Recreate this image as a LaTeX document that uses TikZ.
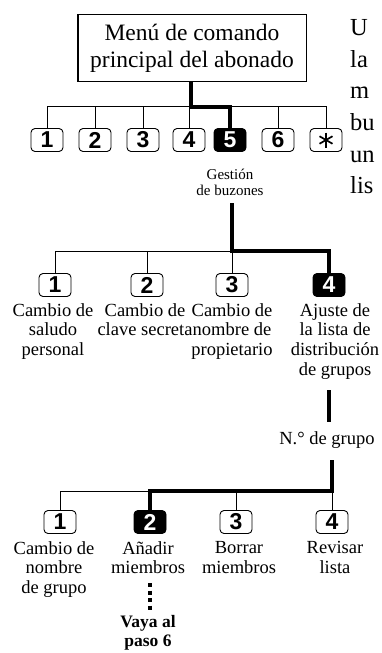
\documentclass[tikz,border=0pt]{standalone}
\usepackage{fontspec}
\setmainfont{Liberation Serif}
\newfontfamily\keyfont{Liberation Sans}
\begin{document}
\begin{tikzpicture}[x=1bp,y=-1bp,
  key/.style={draw,line width=0.9bp,rounded corners=4bp,minimum width=32bp,minimum height=23bp,inner sep=0pt,
    font=\keyfont\bfseries\fontsize{23bp}{23bp}\selectfont},
  keyon/.style={key,fill=black,text=white},
  thinln/.style={line width=1bp},
  thickln/.style={line width=4bp},
  dotln/.style={line width=4bp,dash pattern=on 4bp off 3.5bp},
  starln/.style={line width=1.7bp},
  lab/.style={align=center,inner sep=0pt,font=\fontsize{18.5bp}{19.7bp}\selectfont},
  side/.style={anchor=base west,inner sep=0pt,font=\fontsize{24.5bp}{24.5bp}\selectfont}]
\useasboundingbox (0,0) rectangle (381,653);
\clip (0,0) rectangle (381,653);

% main box
\node[draw,line width=1bp,minimum width=228bp,minimum height=67bp,inner sep=0pt,align=center,
  font=\fontsize{23.5bp}{27bp}\selectfont] (menu) at (192,48.5) {Menú de comando\\principal del abonado};

% side text (cut off at the edge)
\node[side] (s1) at (350,36) {U};
\node[side] (s2) at (350,67.5) {la};
\node[side] (s3) at (350,99) {m};
\node[side] (s4) at (350,130.5) {bu};
\node[side] (s5) at (350,162) {un};
\node[side] (s6) at (350,193.5) {lis};

% row 1
\coordinate (b1) at (0,107);
\node[key] (k1) at (47,140) {1};
\node[key] (k2) at (95,140) {2};
\node[key] (k3) at (143,140) {3};
\node[key] (k4) at (189,140) {4};
\node[keyon] (k5) at (230,140) {5};
\node[key] (k6) at (278,140) {6};
\node[key] (k7) at (326,140) {\phantom{6}};
\foreach \a in {90,30,150}
  \draw[starln] ([shift={(\a:7.5bp)}]k7.center) -- ([shift={(\a+180:7.5bp)}]k7.center);
\draw[thinln] (k1.north) |- (k7.north |- b1) -- (k7.north);
\foreach \k in {k2,k3,k4,k6} \draw[thinln] (\k.north) -- (\k.north |- b1);
\coordinate (m4) at (191,82);
\draw[thickln] (m4) |- (k5.north |- b1) -- (k5.north);
\node[inner sep=0pt,align=center,font=\fontsize{15bp}{16bp}\selectfont] (gest) at (230,182) {Gestión\\de buzones};

% row 2
\coordinate (b2) at (0,251);
\coordinate (g2) at (232,203);
\node[key] (r1) at (55,285) {1};
\node[key] (r2) at (147,285) {2};
\node[key] (r3) at (232,285) {3};
\node[keyon] (r4) at (329,285) {4};
\draw[thinln] (r1.north) |- (r3.north |- b2) -- (r3.north);
\draw[thinln] (r2.north) -- (r2.north |- b2);
\draw[thickln] (g2) |- (r4.north |- b2) -- (r4.north);
\node[lab,anchor=north] (l1) at (53,303) {Cambio de\\saludo\\personal};
\node[lab,anchor=north] (l2) at (145,303) {Cambio de\\clave secreta};
\node[lab,anchor=north] (l3) at (232,303) {Cambio de\\nombre de\\propietario};
\node[lab,anchor=north] (l4) at (335,303) {Ajuste de\\la lista de\\distribución\\de grupos};

% group number
\coordinate (n1) at (329,390);
\coordinate (n2) at (329,422);
\draw[thickln] (n1) -- (n2);
\node[lab] (ng) at (327,440) {N.° de grupo};

% row 3
\coordinate (b3) at (0,491);
\coordinate (n3) at (332,460);
\node[key] (t1) at (60,522) {1};
\node[keyon] (t2) at (150,522) {2};
\node[key] (t3) at (236,522) {3};
\node[key] (t4) at (332,522) {4};
\draw[thinln] (t1.north) |- (t2.north |- b3);
\draw[thinln] (t3.north) -- (t3.north |- b3);
\draw[thinln] (t4.north) -- (t4.north |- b3);
\draw[thickln] (n3) |- (t2.north |- b3) -- (t2.north);
\node[lab,anchor=north] (u1) at (54,541) {Cambio de\\nombre\\de grupo};
\node[lab,anchor=north] (u2) at (148,541) {Añadir\\miembros};
\node[lab,anchor=north] (u3) at (239,541) {Borrar\\miembros};
\node[lab,anchor=north] (u4) at (335,541) {Revisar\\lista};

% go to step 6
\coordinate (d1) at (150,583);
\coordinate (d2) at (150,612);
\draw[dotln] (d1) -- (d2);
\node[lab,font=\bfseries\fontsize{17.5bp}{19bp}\selectfont] (vaya) at (148,633) {Vaya al\\paso 6};
\end{tikzpicture}
\end{document}
